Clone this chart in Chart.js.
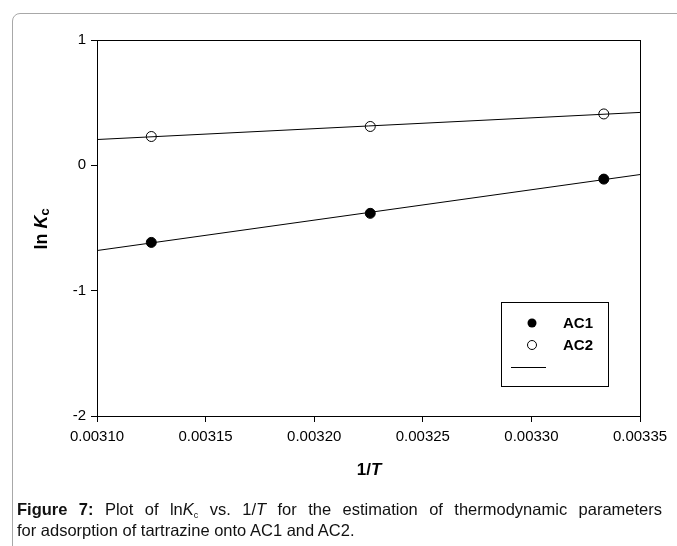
<!DOCTYPE html>
<html>
<head>
<meta charset="utf-8">
<script src="https://cdn.jsdelivr.net/npm/chart.js@4.4.1/dist/chart.umd.min.js"></script>
<style>
  body { margin: 0; background: #fff; font-family: "Liberation Sans", Arial, sans-serif; }
  #page { position: relative; width: 677px; height: 546px; overflow: hidden; }
  #frame {
    position: absolute; left: 12px; top: 13px; width: 700px; height: 600px;
    border: 1px solid #a8a8a8; border-radius: 8px;
  }
  #chart { position: absolute; left: 0; top: 0; }
  #caption {
    position: absolute; left: 17px; top: 499px; width: 645px;
    font-size: 16.5px; line-height: 21px; color: #111; white-space: nowrap;
  }
  #caption .l1 { text-align: justify; text-align-last: justify; }
  #caption sub { font-size: 9px; line-height: 0; vertical-align: -3px; }
</style>
</head>
<body>
<div id="page">
  <div id="frame"></div>
  <canvas id="chart" width="677" height="546"></canvas>
  <div id="caption">
    <div class="l1" style="white-space: normal"><b>Figure 7:</b> Plot of ln<i>K</i><sub>c</sub> vs. 1/<i>T</i> for the estimation of thermodynamic parameters</div>
    <div>for adsorption of tartrazine onto AC1 and AC2.</div>
  </div>
</div>
<script>
// data
const invT = [1 / 320, 1 / 310, 1 / 300];
const lnKcAC1 = [-0.615, -0.383, -0.11];
const lnKcAC2 = [0.23, 0.31, 0.41];
const xTicks = [0.0031, 0.00315, 0.0032, 0.00325, 0.0033, 0.00335];
const yTicks = [-2, -1, 0, 1];

const xMin = 0.0031, xMax = 0.00335;

// least squares fit line over the whole axis
function fitLine(xs, ys) {
  const n = xs.length;
  const mx = xs.reduce((a, b) => a + b, 0) / n;
  const my = ys.reduce((a, b) => a + b, 0) / n;
  let sxy = 0, sxx = 0;
  for (let i = 0; i < n; i++) {
    sxy += (xs[i] - mx) * (ys[i] - my);
    sxx += (xs[i] - mx) * (xs[i] - mx);
  }
  const b = sxy / sxx;
  const a = my - b * mx;
  return [{ x: xMin, y: a + b * xMin }, { x: xMax, y: a + b * xMax }];
}

const pts = (ys) => invT.map((x, i) => ({ x: x, y: ys[i] }));

const FONT = '"Liberation Sans", Arial, sans-serif';

// frame, axis titles and legend
const extras = {
  id: "extras",
  afterDraw(chart) {
    const ctx = chart.ctx;
    const a = chart.chartArea;
    ctx.save();
    ctx.strokeStyle = "#000";
    ctx.lineWidth = 1;
    ctx.strokeRect(Math.round(a.left) + 0.5, Math.round(a.top) + 0.5,
      Math.round(a.right - a.left), Math.round(a.bottom - a.top));

    // x title
    ctx.fillStyle = "#000";
    ctx.textBaseline = "alphabetic";
    ctx.font = "bold 17px " + FONT;
    const w1 = ctx.measureText("1/").width;
    ctx.font = "italic bold 17px " + FONT;
    const w2 = ctx.measureText("T").width;
    let x0 = 369 - (w1 + w2) / 2;
    ctx.font = "bold 17px " + FONT;
    ctx.fillText("1/", x0, 475);
    ctx.font = "italic bold 17px " + FONT;
    ctx.fillText("T", x0 + w1, 475);

    // y title
    ctx.translate(47, 229);
    ctx.rotate(-Math.PI / 2);
    ctx.font = "bold 18px " + FONT;
    const l1 = ctx.measureText("ln ").width;
    ctx.font = "italic bold 18px " + FONT;
    const l2 = ctx.measureText("K").width;
    ctx.font = "bold 13px " + FONT;
    const l3 = ctx.measureText("c").width;
    let s = -(l1 + l2 + l3) / 2;
    ctx.font = "bold 18px " + FONT;
    ctx.fillText("ln ", s, 0);
    ctx.font = "italic bold 18px " + FONT;
    ctx.fillText("K", s + l1, 0);
    ctx.font = "bold 13px " + FONT;
    ctx.fillText("c", s + l1 + l2, 2);
    ctx.setTransform(1, 0, 0, 1, 0, 0);

    // legend
    ctx.strokeRect(501.5, 302.5, 107, 84);
    ctx.beginPath();
    ctx.arc(532, 323, 4.5, 0, Math.PI * 2);
    ctx.fillStyle = "#000";
    ctx.fill();
    ctx.beginPath();
    ctx.arc(532, 345, 4.5, 0, Math.PI * 2);
    ctx.fillStyle = "#fff";
    ctx.fill();
    ctx.stroke();
    ctx.beginPath();
    ctx.moveTo(511, 367.5);
    ctx.lineTo(546, 367.5);
    ctx.stroke();
    ctx.fillStyle = "#000";
    ctx.textBaseline = "middle";
    ctx.font = "bold 15px " + FONT;
    ctx.fillText("AC1", 563, 324);
    ctx.fillText("AC2", 563, 346);
    ctx.restore();
  },
};

new Chart(document.getElementById("chart"), {
  type: "scatter",
  data: {
    datasets: [
      {
        label: "AC1 fit",
        data: fitLine(invT, lnKcAC1),
        showLine: true,
        borderColor: "#000",
        borderWidth: 1,
        pointRadius: 0,
      },
      {
        label: "AC2 fit",
        data: fitLine(invT, lnKcAC2),
        showLine: true,
        borderColor: "#000",
        borderWidth: 1,
        pointRadius: 0,
      },
      {
        label: "AC1",
        data: pts(lnKcAC1),
        pointRadius: 5,
        pointBackgroundColor: "#000",
        pointBorderColor: "#000",
        pointBorderWidth: 1,
      },
      {
        label: "AC2",
        data: pts(lnKcAC2),
        pointRadius: 5,
        pointBackgroundColor: "#fff",
        pointBorderColor: "#000",
        pointBorderWidth: 1,
      },
    ],
  },
  options: {
    responsive: false,
    animation: false,
    layout: { padding: { left: 0, right: 37, top: 40, bottom: 0 } },
    plugins: { legend: { display: false }, tooltip: { enabled: false } },
    scales: {
      x: {
        type: "linear",
        min: xMin,
        max: xMax,
        afterBuildTicks: (axis) => { axis.ticks = xTicks.map((v) => ({ value: v })); },
        afterFit: (axis) => { axis.height = 130; },
        grid: { drawOnChartArea: false, drawTicks: true, tickLength: 6, color: "#000" },
        border: { display: true, color: "#000" },
        ticks: {
          color: "#000",
          font: { family: FONT, size: 15 },
          padding: 6,
          maxRotation: 0,
          callback: (v) => v.toFixed(5),
        },
      },
      y: {
        min: -2,
        max: 1,
        afterBuildTicks: (axis) => { axis.ticks = yTicks.map((v) => ({ value: v })); },
        afterFit: (axis) => { axis.width = 97; },
        grid: { drawOnChartArea: false, drawTicks: true, tickLength: 6, color: "#000" },
        border: { display: true, color: "#000" },
        ticks: {
          color: "#000",
          font: { family: FONT, size: 15 },
          padding: 5,
          callback: (v) => String(v),
        },
      },
    },
  },
  plugins: [extras],
});
</script>
</body>
</html>
